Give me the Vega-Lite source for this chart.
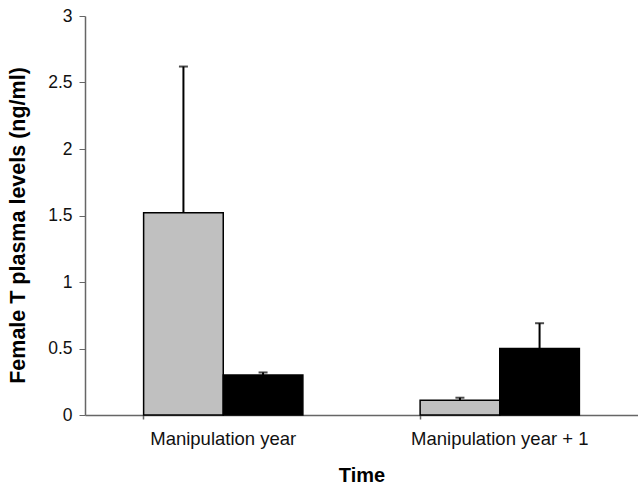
{
  "$schema": "https://vega.github.io/schema/vega-lite/v6.json",
  "width": 553,
  "height": 399,
  "autosize": "none",
  "padding": {"left": 85, "top": 16, "right": 0, "bottom": 71},
  "background": "white",
  "config": {
    "view": {"stroke": null},
    "font": "Liberation Sans",
    "axis": {"grid": false, "labelFont": "Liberation Sans", "titleFont": "Liberation Sans", "domainColor": "#666666", "tickColor": "#666666", "labelColor": "#111111", "titleColor": "#000000"}
  },
  "data": {
    "values": [
      {"time": "Manipulation year", "group": "A", "value": 1.52, "upper": 2.62},
      {"time": "Manipulation year", "group": "B", "value": 0.30, "upper": 0.32},
      {"time": "Manipulation year + 1", "group": "A", "value": 0.11, "upper": 0.13},
      {"time": "Manipulation year + 1", "group": "B", "value": 0.50, "upper": 0.69}
    ]
  },
  "resolve": {"axis": {"x": "independent"}},
  "layer": [
    {
      "mark": {"type": "bar", "stroke": "#000000", "strokeWidth": 1.5},
      "encoding": {
        "x": {
          "field": "time", "type": "nominal",
          "scale": {"paddingInner": 0.424, "paddingOuter": 0.212},
          "axis": {"orient": "bottom", "title": "Time", "titleFontSize": 20, "titleFontWeight": "bold", "titleY": 50, "titleBaseline": "top", "labelAngle": 0, "labelFontSize": 18.5, "ticks": false, "labelPadding": 14, "domainWidth": 1.5}
        },
        "xOffset": {"field": "group", "type": "nominal", "sort": ["A", "B"], "scale": {"paddingInner": 0, "paddingOuter": 0}},
        "y": {
          "field": "value", "type": "quantitative",
          "scale": {"domain": [0, 3], "nice": false},
          "axis": {"values": [0, 0.5, 1, 1.5, 2, 2.5, 3], "format": "~g", "title": "Female T plasma levels (ng/ml)", "titleFontSize": 21.5, "titleFontWeight": "bold", "titleX": -56, "titleY": 209, "labelFontSize": 17.5, "tickSize": 6, "labelPadding": 7, "domainWidth": 1.5}
        },
        "color": {"field": "group", "type": "nominal", "scale": {"domain": ["A", "B"], "range": ["#c0c0c0", "#000000"]}, "legend": null}
      }
    },
    {
      "mark": {"type": "rule", "color": "#000000", "strokeWidth": 2},
      "encoding": {
        "x": {"field": "time", "type": "nominal", "axis": {"orient": "bottom", "title": null, "labels": false, "domain": false, "bandPosition": 0, "ticks": true, "tickSize": 4, "tickWidth": 1.5}},
        "xOffset": {"field": "group", "type": "nominal", "sort": ["A", "B"]},
        "y": {"field": "value", "type": "quantitative"},
        "y2": {"field": "upper"}
      }
    },
    {
      "mark": {"type": "tick", "color": "#000000", "orient": "horizontal", "size": 9, "thickness": 2},
      "encoding": {
        "x": {"field": "time", "type": "nominal", "axis": null},
        "xOffset": {"field": "group", "type": "nominal", "sort": ["A", "B"]},
        "y": {"field": "upper", "type": "quantitative"}
      }
    }
  ]
}
